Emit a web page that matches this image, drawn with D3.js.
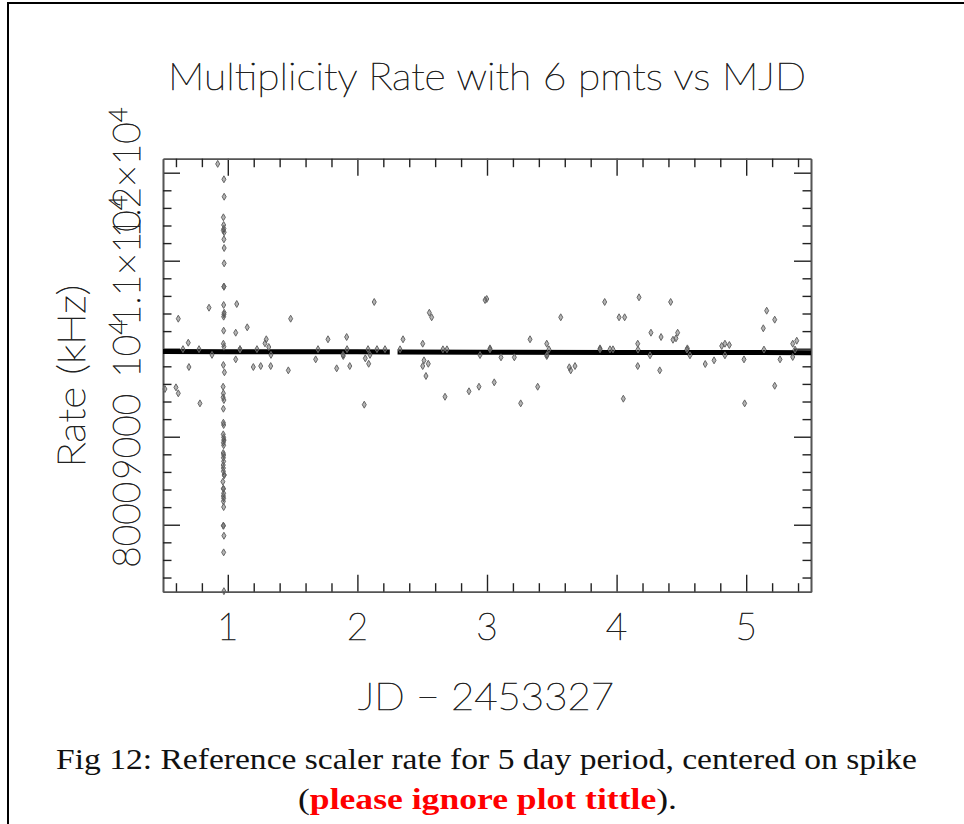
<!DOCTYPE html>
<html>
<head>
<meta charset="utf-8">
<script src="https://cdn.jsdelivr.net/npm/d3@7"></script>
<style>
body { margin: 0; background: #fff; }
svg { display: block; }
.hz { font-family: "DejaVu Sans ExtraLight", "Lato", "Roboto", sans-serif; font-weight: 200; fill: #000; stroke: #222; stroke-width: 0.7px; }
.cap { font-family: "Liberation Serif", "DejaVu Serif", serif; fill: #111; }
</style>
</head>
<body>
<div id="container"></div>
<script>
var titleText = "Multiplicity Rate with 6 pmts vs MJD";
var xLabel = "JD \u2212 2453327";
var yLabel = "Rate (kHz)";
var xTicks = [1, 2, 3, 4, 5];
var yTicks = [8000, 9000, 10000, 11000, 12000];
var yTickText = [["8000", ""], ["9000", ""], ["10", "4"], ["1.1\u00d710", "4"], ["1.2\u00d710", "4"]];
var xDomain = [0.5, 5.5];
var yDomain = [7239, 12159];

// the thick band of normal readings (day, rate), gap near day 2.27
var bandA = [[0.5, 9968], [1.0, 9966], [1.5, 9965], [2.0, 9965], [2.25, 9964]];
var bandB = [[2.31, 9962], [3.0, 9960], [4.0, 9958], [5.0, 9956], [5.5, 9955]];

// readings just off the band
var nearBand = [[0.654, 9995], [0.778, 9995], [1.094, 9995], [1.225, 9995], [1.696, 9995], [1.92, 9995],
  [2.082, 9995], [2.151, 9995], [2.213, 9995], [2.329, 9993], [2.66, 9993], [2.691, 9993], [3.023, 9993],
  [3.478, 9993], [3.872, 9993], [3.949, 9993], [3.972, 9993], [4.165, 9990], [4.543, 9990], [5.137, 9990],
  [5.377, 9990], [0.878, 9930], [1.333, 9930], [1.889, 9930], [2.097, 9930], [2.946, 9928], [3.463, 9928],
  [4.258, 9925], [4.566, 9925], [4.836, 9925]];

// the spike near day 0.97
var spike = [[0.922, 12100], [0.97, 11925], [0.972, 11727], [0.966, 11493], [0.968, 11406], [0.97, 11364],
  [0.965, 11345], [0.972, 11323], [0.97, 11243], [0.972, 11144], [0.972, 10970], [0.97, 10705], [0.97, 10705],
  [0.968, 10497], [0.972, 10409], [0.97, 10391], [0.968, 10364], [0.968, 10205], [0.966, 10057], [0.97, 10023],
  [0.966, 9815], [0.974, 9732], [0.964, 9568], [0.966, 9493], [0.964, 9448], [0.97, 9417], [0.966, 9318],
  [0.966, 9159], [0.968, 9133], [0.965, 9027], [0.968, 8993], [0.97, 8962], [0.97, 8962], [0.966, 8932],
  [0.968, 8902], [0.965, 8815], [0.968, 8792], [0.966, 8761], [0.968, 8720], [0.965, 8678], [0.966, 8644],
  [0.966, 8607], [0.972, 8565], [0.972, 8565], [0.962, 8489], [0.966, 8409], [0.966, 8409], [0.968, 8357],
  [0.966, 8326], [0.968, 8300], [0.966, 8266], [0.968, 8201], [0.966, 7989], [0.966, 7989], [0.97, 7875],
  [0.968, 7686], [0.97, 7245]];

// scattered outliers over the rest of the period
var outliers = [[0.618, 10341], [0.695, 10068], [0.70, 9792], [0.515, 9542], [0.60, 9561], [0.618, 9493],
  [0.785, 9379], [0.855, 10466], [1.069, 10508], [1.15, 10243], [1.061, 10182], [1.297, 10107], [1.287, 10061],
  [1.316, 10019], [1.094, 9993], [1.061, 9879], [1.197, 9792], [1.254, 9803], [1.331, 9803], [1.485, 10341],
  [1.467, 9754], [1.678, 9879], [1.773, 10107], [1.917, 10133], [1.84, 9777], [1.941, 9803], [1.891, 9917],
  [2.061, 9891], [2.087, 9829], [2.053, 9364], [2.13, 10531], [2.555, 10409], [2.573, 10357], [2.352, 10107],
  [2.504, 10057], [2.514, 9868], [2.504, 9803], [2.547, 9829], [2.529, 9690], [2.676, 9454], [2.861, 9516],
  [2.938, 9568], [2.985, 10553], [2.998, 10565], [3.023, 10004], [3.108, 9902], [3.211, 9902], [3.056, 9618],
  [3.26, 9379], [3.332, 10107], [3.391, 9568], [3.461, 10057], [3.461, 9917], [3.569, 10357], [3.635, 9789],
  [3.646, 9754], [3.679, 9803], [3.872, 10004], [3.908, 10531], [4.019, 10357], [4.062, 10357], [4.052, 9432],
  [4.173, 10584], [4.163, 10057], [4.163, 9803], [4.265, 10182], [4.343, 10133], [4.333, 9754], [4.417, 10531],
  [4.435, 10102], [4.458, 10118], [4.471, 10182], [4.546, 10004], [4.684, 9826], [4.752, 9868], [4.811, 10031],
  [4.836, 10057], [4.87, 10042], [4.983, 9879], [4.988, 9379], [5.132, 10232], [5.158, 10432], [5.22, 10330],
  [5.22, 9579], [5.261, 9879], [5.359, 10057], [5.39, 10091], [5.359, 9906]];

var captionLine1 = "Fig 12: Reference scaler rate for 5 day period, centered on spike";
var captionPre = "(";
var captionRed = "please ignore plot tittle";
var captionPost = ").";

var W = 964, H = 824;
var svg = d3.select("#container").append("svg")
  .attr("width", W)
  .attr("height", H);

// page frame (top and left edges visible)
svg.append("path")
  .attr("d", "M8,824V3H964")
  .attr("fill", "none")
  .attr("stroke", "#000")
  .attr("stroke-width", 2);

var x = d3.scaleLinear().domain(xDomain).range([163, 811]);
var y = d3.scaleLinear().domain(yDomain).range([591.7, 158.7]);

var xMinor = d3.range(0.6, 5.45, 0.2).filter(function (d) { return Math.abs(d - Math.round(d)) > 0.01; });
var yMinor = d3.range(7400, 12100, 200).filter(function (d) { return d % 1000 !== 0; });

function styleAxis(g) {
  g.selectAll("path").attr("stroke", "#555").attr("stroke-width", 1.6);
  g.selectAll("line").attr("stroke", "#222").attr("stroke-width", 1.4);
  g.selectAll("text").remove();
}

// bottom
svg.append("g").attr("transform", "translate(0,591.7)")
  .call(d3.axisBottom(x).tickValues(xTicks).tickSize(-17).tickSizeOuter(0)).call(styleAxis);
svg.append("g").attr("transform", "translate(0,591.7)")
  .call(d3.axisBottom(x).tickValues(xMinor).tickSize(-8.5).tickSizeOuter(0)).call(styleAxis);
// top
svg.append("g").attr("transform", "translate(0,158.7)")
  .call(d3.axisTop(x).tickValues(xTicks).tickSize(-17).tickSizeOuter(0)).call(styleAxis);
svg.append("g").attr("transform", "translate(0,158.7)")
  .call(d3.axisTop(x).tickValues(xMinor).tickSize(-8.5).tickSizeOuter(0)).call(styleAxis);
// left
svg.append("g").attr("transform", "translate(163,0)")
  .call(d3.axisLeft(y).tickValues(yTicks).tickSize(-17).tickSizeOuter(0)).call(styleAxis);
svg.append("g").attr("transform", "translate(163,0)")
  .call(d3.axisLeft(y).tickValues(yMinor).tickSize(-8.5).tickSizeOuter(0)).call(styleAxis);
// right
svg.append("g").attr("transform", "translate(811,0)")
  .call(d3.axisRight(y).tickValues(yTicks).tickSize(-17).tickSizeOuter(0)).call(styleAxis);
svg.append("g").attr("transform", "translate(811,0)")
  .call(d3.axisRight(y).tickValues(yMinor).tickSize(-8.5).tickSizeOuter(0)).call(styleAxis);

// x tick labels
svg.selectAll("text.xt")
  .data(xTicks)
  .enter()
  .append("text")
  .attr("class", "hz xt")
  .attr("x", function (d) { return x(d); })
  .attr("y", 640)
  .attr("text-anchor", "middle")
  .style("font-size", "37px")
  .text(function (d) { return d; });

// y tick labels, rotated; they overlap as in the original
var yt = svg.selectAll("text.yt")
  .data(yTicks)
  .enter()
  .append("text")
  .attr("class", "hz yt")
  .attr("text-anchor", "middle")
  .attr("transform", function (d) { return "translate(140," + y(d) + ") rotate(-90)"; })
  .style("font-size", "37px");
yt.append("tspan").text(function (d, i) { return yTickText[i][0]; });
yt.append("tspan")
  .attr("dy", "-0.5em")
  .style("font-size", "26px")
  .text(function (d, i) { return yTickText[i][1]; });

// title and axis titles
svg.append("text")
  .attr("class", "hz")
  .attr("x", 168).attr("y", 90)
  .attr("textLength", 638).attr("lengthAdjust", "spacingAndGlyphs")
  .style("font-size", "37px")
  .text(titleText);

svg.append("text")
  .attr("class", "hz")
  .attr("x", 358).attr("y", 710)
  .attr("textLength", 256).attr("lengthAdjust", "spacingAndGlyphs")
  .style("font-size", "37px")
  .text(xLabel);

svg.append("text")
  .attr("class", "hz")
  .attr("transform", "translate(85,376) rotate(-90)")
  .attr("text-anchor", "middle")
  .attr("textLength", 183).attr("lengthAdjust", "spacingAndGlyphs")
  .style("font-size", "37px")
  .text(yLabel);

// data
var line = d3.line()
  .x(function (d) { return x(d[0]); })
  .y(function (d) { return y(d[1]); });

[bandA, bandB].forEach(function (band) {
  svg.append("path")
    .attr("d", line(band))
    .attr("fill", "none")
    .attr("stroke", "#000")
    .attr("stroke-width", 5);
});

var diamond = d3.symbol().type(d3.symbolDiamond).size(14);

svg.append("g").selectAll("path")
  .data(nearBand.concat(spike, outliers))
  .enter()
  .append("path")
  .attr("d", diamond)
  .attr("transform", function (d) { return "translate(" + x(d[0]) + "," + y(d[1]) + ")"; })
  .attr("fill", "#444")
  .attr("fill-opacity", 0.4)
  .attr("stroke", "#666")
  .attr("stroke-width", 1);

// caption
svg.append("text")
  .attr("class", "cap")
  .attr("x", 56).attr("y", 769)
  .attr("textLength", 861).attr("lengthAdjust", "spacingAndGlyphs")
  .style("font-size", "30px")
  .text(captionLine1);

var c2 = svg.append("text")
  .attr("class", "cap")
  .attr("x", 298).attr("y", 809)
  .attr("textLength", 379).attr("lengthAdjust", "spacingAndGlyphs")
  .style("font-size", "30px");
c2.append("tspan").text(captionPre);
c2.append("tspan").attr("fill", "#ff0000").attr("font-weight", "bold").text(captionRed);
c2.append("tspan").text(captionPost);
</script>
</body>
</html>
